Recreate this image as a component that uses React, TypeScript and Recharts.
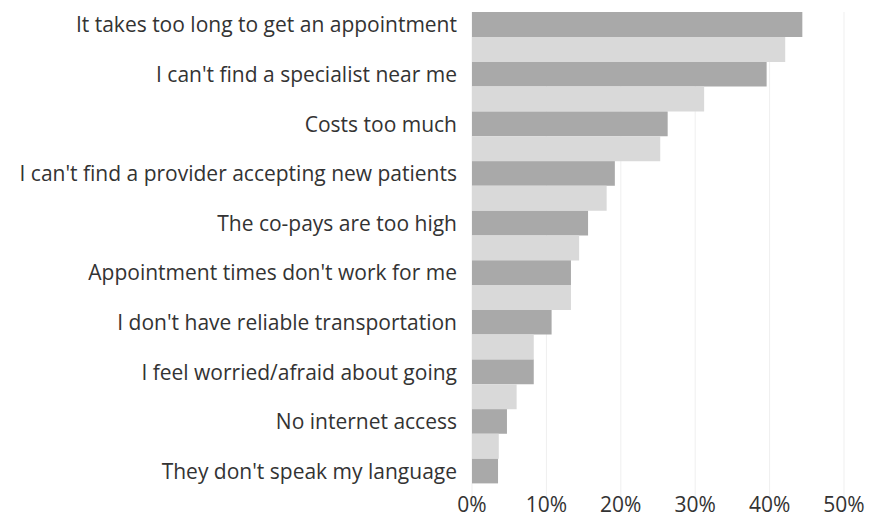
import React from "react";
import { BarChart, Bar, XAxis, YAxis, CartesianGrid } from "recharts";

const categories = [
  "It takes too long to get an appointment",
  "I can't find a specialist near me",
  "Costs too much",
  "I can't find a provider accepting new patients",
  "The co-pays are too high",
  "Appointment times don't work for me",
  "I don't have reliable transportation",
  "I feel worried/afraid about going",
  "No internet access",
  "They don't speak my language",
];
const seriesA = [44.4, 39.6, 26.3, 19.2, 15.6, 13.3, 10.7, 8.3, 4.7, 3.5];
const seriesB = [42.1, 31.2, 25.3, 18.1, 14.4, 13.3, 8.3, 6.0, 3.6, 0];
const xTicks = [0, 10, 20, 30, 40, 50];

const data = categories.map((c, i) => ({ name: c, a: seriesA[i], b: seriesB[i] }));

const FONT = "'Open Sans', sans-serif";

const YTick = (props: any) => {
  const { x, y, payload } = props;
  return (
    <text x={x} y={y} dx={6} dy={-12.4} textAnchor="end" dominantBaseline="central" fill="#333" fontSize={21} fontFamily={FONT}>
      {payload.value}
    </text>
  );
};

const XTick = (props: any) => {
  const { x, y, payload } = props;
  return (
    <text x={x} y={y} dy={-12} textAnchor="middle" dominantBaseline="central" fill="#333" fontSize={21} fontFamily={FONT}>
      {payload.value + "%"}
    </text>
  );
};

export default function App() {
  return (
    <div style={{ position: "absolute", left: 0, top: 0, background: "#fff" }}>
      <BarChart
        width={879}
        height={517}
        data={data}
        layout="vertical"
        margin={{ top: 12, right: 35, bottom: 0, left: 0 }}
        barCategoryGap={0}
        barGap={0}
      >
        <CartesianGrid horizontal={false} vertical={true} stroke="#efefef" />
        <XAxis
          type="number"
          domain={[0, 50]}
          ticks={xTicks}
          height={9}
          axisLine={false}
          tickLine={false}
          tick={<XTick />}
          interval={0}
        />
        <YAxis
          type="category"
          dataKey="name"
          width={472}
          axisLine={false}
          tickLine={false}
          tickMargin={15}
          tick={<YTick />}
          interval={0}
        />
        <Bar dataKey="a" fill="#a9a9a9" isAnimationActive={false} />
        <Bar dataKey="b" fill="#d9d9d9" isAnimationActive={false} />
      </BarChart>
    </div>
  );
}
